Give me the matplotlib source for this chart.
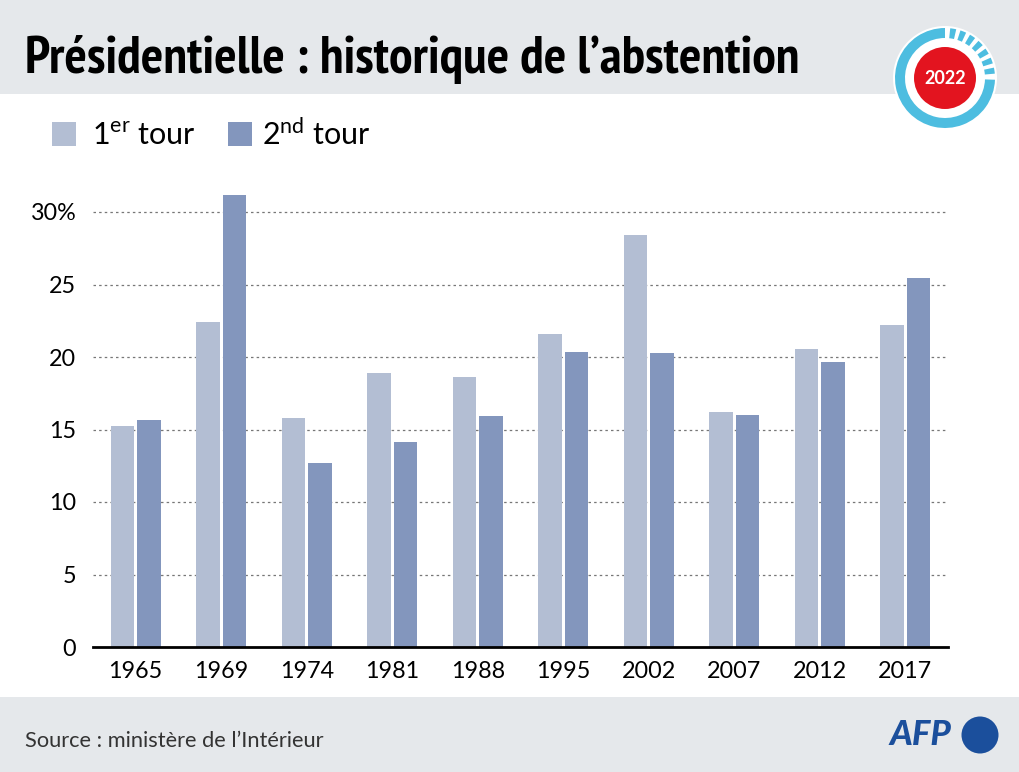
import numpy as np
import matplotlib
matplotlib.use("Agg")
import matplotlib.pyplot as plt
from matplotlib import font_manager
from matplotlib.patches import Rectangle, Wedge, Circle

years = ["1965", "1969", "1974", "1981", "1988", "1995", "2002", "2007", "2012", "2017"]
tour1 = [15.25, 22.41, 15.77, 18.91, 18.62, 21.62, 28.40, 16.23, 20.52, 22.23]
tour2 = [15.68, 31.15, 12.66, 14.14, 15.93, 20.34, 20.29, 16.03, 19.65, 25.44]
yticks = [0, 5, 10, 15, 20, 25, 30]
ytick_labels = ["0", "5", "10", "15", "20", "25", "30%"]

c1 = "#b3bed3"
c2 = "#8396bd"
band = "#e5e8eb"

plt.rcParams["font.family"] = ["Lato", "DejaVu Sans"]
plt.rcParams["mathtext.fontset"] = "custom"
plt.rcParams["mathtext.rm"] = "Lato"


def title_font():
    # look for a narrow bold face, else Lato bold
    best = None
    for f in font_manager.fontManager.ttflist:
        fn = f.fname.lower()
        if ("narrow" in fn or "condensed" in fn) and "bold" in fn and "oblique" not in fn and "italic" not in fn:
            if best is None or "sans" in fn:
                best = f.fname
    if best:
        return font_manager.FontProperties(fname=best)
    return font_manager.FontProperties(family="Lato", weight="bold")


W, H = 1020, 772
fig = plt.figure(figsize=(W / 100, H / 100), dpi=100)

bg = fig.add_axes([0, 0, 1, 1])
bg.set_xlim(0, W)
bg.set_ylim(0, H)
bg.axis("off")
bg.add_patch(Rectangle((0, H - 94), W, 94, color=band, lw=0))
bg.add_patch(Rectangle((0, 0), W, H - 697, color=band, lw=0))

tp = title_font()
tp.set_size(38)
title = bg.text(25, H - 73, "Présidentielle : historique de l’abstention",
                fontproperties=tp, va="baseline", ha="left")
r = fig.canvas.get_renderer()
wpx = title.get_window_extent(r).width
if wpx > 855:
    tp.set_size(38 * 855 / wpx)
    title.set_fontproperties(tp)

# 2022 badge
cx, cy = 945, H - 78
bg.add_patch(Circle((cx, cy), 52, color="white", lw=0))
bg.add_patch(Wedge((cx, cy), 50, 90, 358, width=10, color="#4dbde0", lw=0))
for a in range(5, 84, 12):
    bg.add_patch(Wedge((cx, cy), 50, a, a + 7, width=10, color="#4dbde0", lw=0))
bg.add_patch(Circle((cx, cy), 31, color="#e3141f", lw=0))
bg.text(cx, cy, "2022", color="white", fontsize=13, fontweight="bold",
        ha="center", va="center")

# legend
bg.add_patch(Rectangle((52, H - 146), 24, 24, color=c1, lw=0))
bg.add_patch(Rectangle((228, H - 146), 24, 24, color=c2, lw=0))
bg.text(92, H - 145, r"1$^{\rm er}$ tour", fontsize=22, va="baseline")
bg.text(262, H - 145, r"2$^{\rm nd}$ tour", fontsize=22, va="baseline")

# footer
bg.text(25, H - 741, "Source : ministère de l’Intérieur", fontsize=15.7,
        color="#333333", va="center")
bg.text(920, H - 735, "AFP", fontsize=25, fontweight="black", style="italic",
        color="#1b4f9c", ha="center", va="center")
bg.add_patch(Circle((980, H - 735), 18.5, color="#1b4f9c", lw=0))

# chart
ymax = 32
px_per = 14.5
ax = fig.add_axes([93 / W, (H - 647) / H, 855 / W, ymax * px_per / H])
x = np.arange(len(years))
ax.bar(x - 0.155, tour1, width=0.28, color=c1, zorder=2)
ax.bar(x + 0.155, tour2, width=0.28, color=c2, zorder=2)
ax.set_xlim(-0.5, len(years) - 0.5)
ax.set_ylim(0, ymax)
for v in yticks[1:]:
    ax.axhline(v, color="#777777", lw=0.9, ls=(0, (2, 2.5)), zorder=1)
ax.set_yticks(yticks)
ax.set_yticklabels(ytick_labels)
ax.set_xticks(x)
ax.set_xticklabels(years)
ax.tick_params(length=0, labelsize=16.8, pad=12)
ax.tick_params(axis="x", pad=10)
for s in ["top", "right", "left"]:
    ax.spines[s].set_visible(False)
ax.spines["bottom"].set_linewidth(2)
ax.spines["bottom"].set_zorder(3)
ax.patch.set_alpha(0)

fig.savefig("out.png", dpi=100)
